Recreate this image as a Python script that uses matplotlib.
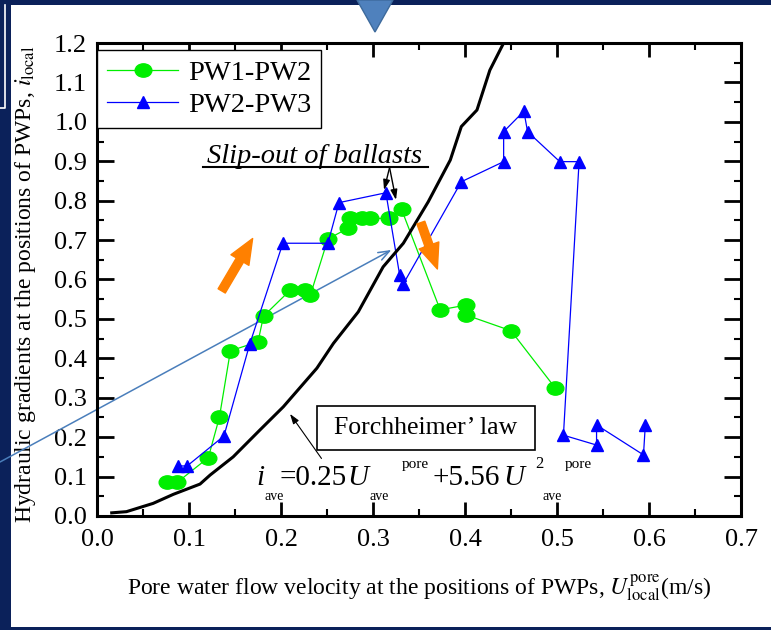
import matplotlib.pyplot as plt
import numpy as np
from matplotlib.path import Path
from matplotlib.patches import Rectangle, FancyArrowPatch, Polygon
from matplotlib.lines import Line2D
from matplotlib.ticker import MultipleLocator

plt.rcParams['font.family'] = ['Liberation Serif', 'DejaVu Serif']
plt.rcParams['mathtext.fontset'] = 'stix'

# PW1-PW2 (green circles)
u_pw12 = [0.076, 0.087, 0.121, 0.133, 0.145, 0.175, 0.181, 0.210, 0.226, 0.232,
          0.251, 0.273, 0.275, 0.288, 0.297, 0.317, 0.331, 0.373, 0.401, 0.401,
          0.450, 0.498]
i_pw12 = [0.085, 0.085, 0.148, 0.250, 0.419, 0.442, 0.507, 0.573, 0.573, 0.561,
          0.703, 0.730, 0.755, 0.755, 0.755, 0.755, 0.778, 0.523, 0.535, 0.510,
          0.470, 0.325]

# PW2-PW3 (blue triangles)
u_pw23 = [0.088, 0.098, 0.138, 0.166, 0.202, 0.251, 0.263, 0.314, 0.329, 0.333,
          0.396, 0.442, 0.442, 0.464, 0.468, 0.503, 0.524, 0.507, 0.543, 0.543,
          0.594, 0.596]
i_pw23 = [0.127, 0.127, 0.203, 0.436, 0.692, 0.692, 0.795, 0.820, 0.611, 0.589,
          0.848, 0.899, 0.975, 1.027, 0.975, 0.899, 0.899, 0.205, 0.180, 0.231,
          0.155, 0.231]

# Forchheimer' law curve
u_forch = [0.016, 0.032, 0.061, 0.083, 0.112, 0.123, 0.148, 0.177, 0.2025, 0.239,
           0.257, 0.284, 0.311, 0.333, 0.360, 0.384, 0.396, 0.413, 0.427, 0.442]
i_forch = [0.008, 0.011, 0.032, 0.055, 0.081, 0.104, 0.150, 0.218, 0.277, 0.375,
           0.438, 0.518, 0.632, 0.692, 0.797, 0.903, 0.988, 1.030, 1.131, 1.200]

navy = '#0b215a'
green = '#00ee00'
blue = '#0000ff'
orange = '#ff8000'

fig = plt.figure(figsize=(7.71, 6.30), dpi=100, facecolor=navy)

# slide background bits
W, H = 771, 630
fig.patches.append(Rectangle((11 / W, 3 / H), 1 - 11 / W, (625 - 3) / H,
                             transform=fig.transFigure, facecolor='white',
                             edgecolor='none', zorder=-10))
fig.lines.append(Line2D([4.5 / W, 4.5 / W, 0], [(H - 5) / H, (H - 108) / H, (H - 108) / H],
                        transform=fig.transFigure, color='white', lw=1.2, zorder=-5))
fig.patches.append(Polygon([[357 / W, 1], [393 / W, 1], [375 / W, (H - 32) / H]],
                           closed=True, transform=fig.transFigure,
                           facecolor='#4f81bd', edgecolor='#3d6a9c', lw=1, zorder=5))

ax = fig.add_axes([97 / W, (H - 516) / H, (741 - 97) / W, (516 - 43) / H])
ax.set_zorder(1)
ax.patch.set_alpha(0)

ellipse = Path(Path.unit_circle().vertices * [1.0, 0.8], Path.unit_circle().codes)

ax.plot(u_forch, i_forch, color='black', lw=2.2, zorder=4, solid_joinstyle='round')
ax.plot(u_pw12, i_pw12, color=green, lw=0.9, marker=ellipse, ms=12,
        mec=green, mfc=green, label='PW1-PW2', zorder=3)
ax.plot(u_pw23, i_pw23, color=blue, lw=0.9, marker='^', ms=9,
        mec=blue, mfc=blue, label='PW2-PW3', zorder=3)

ax.set_xlim(0, 0.7)
ax.set_ylim(0, 1.2)
ax.xaxis.set_major_locator(MultipleLocator(0.1))
ax.xaxis.set_minor_locator(MultipleLocator(0.05))
ax.yaxis.set_major_locator(MultipleLocator(0.1))
ax.yaxis.set_minor_locator(MultipleLocator(0.05))
ax.xaxis.set_major_formatter(plt.FormatStrFormatter('%.1f'))
ax.yaxis.set_major_formatter(plt.FormatStrFormatter('%.1f'))
ax.tick_params(which='both', direction='in', top=True, right=True)
ax.tick_params(axis='x', which='major', length=10, width=2, labelsize=19, pad=9)
ax.tick_params(axis='y', which='major', length=12, width=2, labelsize=19, pad=7)
ax.tick_params(which='minor', length=5, width=1.5)
for s in ax.spines.values():
    s.set_linewidth(2.2)

ax.set_xlabel(r'Pore water flow velocity at the positions of PWPs, $U_{\rm local}^{\rm pore}$(m/s)',
              fontsize=17)
ax.xaxis.set_label_coords(0.5, -0.118)
ax.set_ylabel(r'Hydraulic gradients at the positions of PWPs, $i_{\rm local}$', fontsize=17)
ax.yaxis.set_label_coords(-0.092, 0.49)

leg = ax.legend(loc='upper left', bbox_to_anchor=(0, 0.985), borderaxespad=0,
                fontsize=20.5, handlelength=2.5, handletextpad=0.35, fancybox=False,
                framealpha=1, edgecolor='black', borderpad=0.35, labelspacing=0.2)
leg.get_frame().set_linewidth(1.0)

# slip-out text with underline and small arrows
ax.text(0.237, 0.895, 'Slip-out of ballasts', fontsize=20.5, style='italic',
        ha='center', va='baseline')
ax.plot([0.115, 0.360], [0.886, 0.886], color='black', lw=1.5)
for tip in [(0.312, 0.827), (0.325, 0.802)]:
    ax.annotate('', xy=tip, xytext=(0.318, 0.884),
                arrowprops=dict(arrowstyle='-|>,head_length=0.6,head_width=0.2',
                                color='black', lw=1, shrinkA=0, shrinkB=0))

# orange trend arrows
for tail, head in [((0.134, 0.565), (0.1707, 0.710)), ((0.351, 0.751), (0.371, 0.620))]:
    ax.add_patch(FancyArrowPatch(tail, head, mutation_scale=20, color=orange,
                                 arrowstyle='simple,head_length=0.9,head_width=0.75,tail_width=0.3',
                                 capstyle='round', joinstyle='round', zorder=6))

# long light blue arrow from off-chart
ax.annotate('', xy=(0.320, 0.675), xycoords='data', xytext=(0, 168),
            textcoords='figure pixels',
            arrowprops=dict(arrowstyle='->,head_length=0.8,head_width=0.3',
                            color='#4a7ebb', lw=1.1, shrinkA=0, shrinkB=0),
            annotation_clip=False, zorder=2)

# Forchheimer' law box
ax.add_patch(Rectangle((0.2388, 0.1674), 0.2372, 0.1116, facecolor='white',
                       edgecolor='black', lw=1.2, zorder=5))
ax.text(0.3576, 0.2232, 'Forchheimer\u2019 law', fontsize=18.5, ha='center',
        va='center', zorder=6)
ax.annotate('', xy=(0.2098, 0.259), xytext=(0.244, 0.146),
            arrowprops=dict(arrowstyle='-|>,head_length=0.6,head_width=0.2',
                            color='black', lw=0.8, shrinkA=0, shrinkB=0))

# equation pieces
big, sub, sup = 21, 10, 11
y_main, y_sub, y_sup = 0.0786, 0.0406, 0.1218
ax.text(0.1728, y_main, 'i', fontsize=big, style='italic', va='baseline')
ax.text(0.1826, y_sub, 'ave', fontsize=sub, va='baseline')
ax.text(0.1989, y_main, '=0.25', fontsize=big, va='baseline')
ax.text(0.2717, y_main, 'U', fontsize=big, style='italic', va='baseline')
ax.text(0.2967, y_sub, 'ave', fontsize=sub, va='baseline')
ax.text(0.3315, y_sup, 'pore', fontsize=sup, va='baseline')
ax.text(0.3652, y_main, '+5.56', fontsize=big, va='baseline')
ax.text(0.4413, y_main, 'U', fontsize=big, style='italic', va='baseline')
ax.text(0.4761, y_sup, '2', fontsize=12, va='baseline')
ax.text(0.4837, y_sub, 'ave', fontsize=sub, va='baseline')
ax.text(0.5087, y_sup, 'pore', fontsize=sup, va='baseline')

plt.savefig('out.png', dpi=100, facecolor=fig.get_facecolor())
